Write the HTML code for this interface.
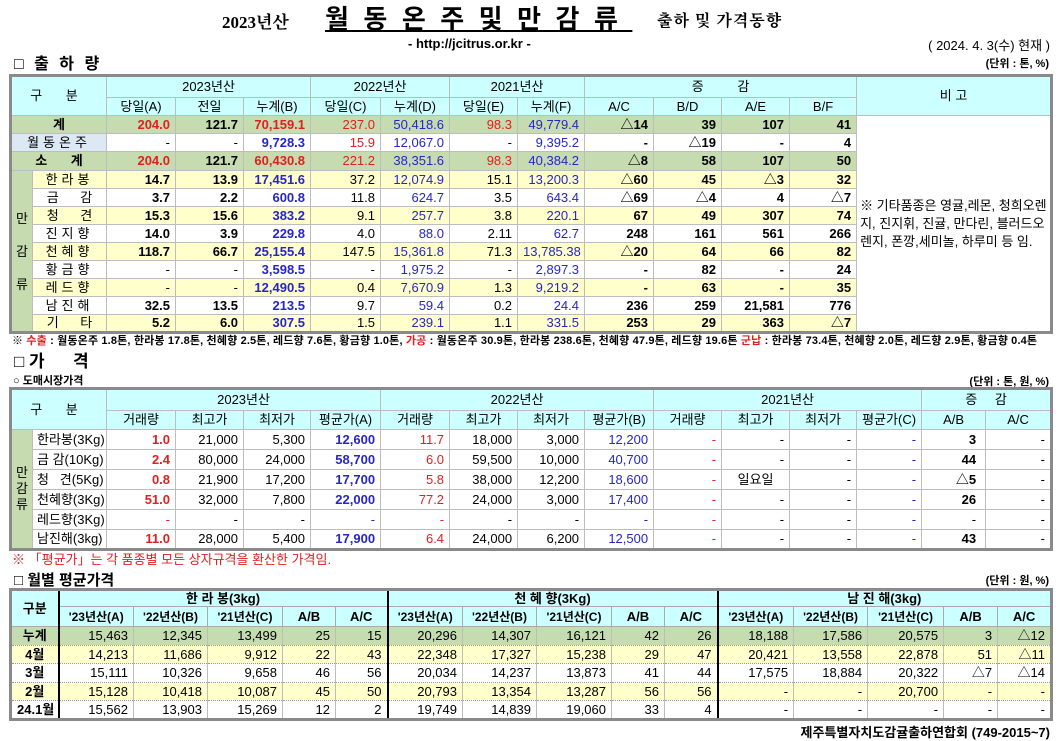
<!DOCTYPE html>
<html><head><meta charset="utf-8"><style>
*{margin:0;padding:0;box-sizing:border-box}
body{width:1062px;height:740px;background:#fff;position:relative;overflow:hidden;font-family:"Liberation Sans","Noto Sans CJK KR",sans-serif;color:#000}
.a{position:absolute;white-space:nowrap}
table{position:absolute;border-collapse:collapse;table-layout:fixed;border:3px solid #8a8a8a}
td{font-size:13px;padding:0 5px;text-align:right;border:1px solid #bdbdbd;white-space:nowrap;overflow:hidden;line-height:14px}
.h{background:#ccffff;text-align:center}
.g{background:#c6dbb0}
.y{background:#ffffcc}
.r{color:#e02020}.b{color:#2626c8}.B{font-weight:bold}
.c{text-align:center}.l{text-align:left}
.k{border-left:1px solid #000}
.t3 td{border-top:1px dotted #999;border-bottom:1px dotted #999;font-size:13px}
.t3 .h{font-weight:bold;border:1px solid #aaa}
</style></head><body>

<div class="a" style="left:222px;top:8px;font:bold 17px 'Liberation Serif','Noto Serif CJK SC',serif">2023년산</div>
<div class="a" style="left:325px;top:2px;font:bold 26px 'Noto Sans CJK KR',sans-serif;letter-spacing:14.5px;text-decoration:underline;line-height:32px">월동온주및만감류</div>
<div class="a" style="left:657px;top:8px;font:bold 16px 'Noto Serif CJK SC',serif;letter-spacing:1px">출하 및 가격동향</div>
<div class="a" style="left:408px;top:36px;font:bold 13px 'Liberation Sans',sans-serif">- http://jcitrus.or.kr -</div>
<div class="a" style="right:12px;top:35px;font-size:13px">( 2024.  4.  3(수) 현재 )</div>

<div class="a" style="left:14px;top:50px;font:bold 16px 'Liberation Sans','Noto Sans CJK KR',sans-serif;letter-spacing:3px">□ 출 하 량</div>
<div class="a" style="right:13px;top:55px;font:bold 11px 'Liberation Sans','Noto Sans CJK KR',sans-serif">(단위 : 톤, %)</div>

<table style="left:9px;top:74px;width:1044px">
<colgroup><col style="width:22px"><col style="width:74px"><col style="width:69px"><col style="width:68px"><col style="width:67px"><col style="width:70px"><col style="width:69px"><col style="width:68px"><col style="width:67px"><col style="width:69px"><col style="width:68px"><col style="width:68px"><col style="width:67px"><col></colgroup>
<tr style="height:22px"><td class="h" colspan="2" rowspan="2" style="letter-spacing:10px">구 분</td><td class="h" colspan="3">2023년산</td><td class="h" colspan="2">2022년산</td><td class="h" colspan="2">2021년산</td><td class="h" colspan="4" style="word-spacing:30px">증 감</td><td class="h" rowspan="2">비 고</td></tr>
<tr style="height:18px"><td class="h">당일(A)</td><td class="h">전일</td><td class="h">누계(B)</td><td class="h">당일(C)</td><td class="h">누계(D)</td><td class="h">당일(E)</td><td class="h">누계(F)</td><td class="h">A/C</td><td class="h">B/D</td><td class="h">A/E</td><td class="h">B/F</td></tr>
<tr class="g B" style="height:18px"><td colspan="2" class="c">계</td><td class="r">204.0</td><td>121.7</td><td class="r">70,159.1</td><td class="r" style="font-weight:normal">237.0</td><td class="b" style="font-weight:normal">50,418.6</td><td class="r" style="font-weight:normal">98.3</td><td class="b" style="font-weight:normal">49,779.4</td><td>△14</td><td>39</td><td>107</td><td>41</td>
<td rowspan="12" class="l" style="background:#fff;line-height:18px;padding:0 3px;font-weight:normal;vertical-align:middle;font-size:13px">※ 기타품종은 영귤,레몬, 청희오렌<br>지, 진지휘, 진귤, 만다린, 블러드오<br>렌지, 폰깡,세미놀, 하루미 등 임.</td></tr>
<tr style="height:18px"><td colspan="2" class="c" style="background:#dce8f4;letter-spacing:4px">월동온주</td><td>-</td><td>-</td><td class="b B">9,728.3</td><td class="r">15.9</td><td class="b">12,067.0</td><td>-</td><td class="b">9,395.2</td><td class="B">-</td><td class="B">△19</td><td class="B">-</td><td class="B">4</td></tr>
<tr class="g B" style="height:19px"><td colspan="2" class="c" style="word-spacing:20px">소 계</td><td class="r">204.0</td><td>121.7</td><td class="r">60,430.8</td><td class="r" style="font-weight:normal">221.2</td><td class="b" style="font-weight:normal">38,351.6</td><td class="r" style="font-weight:normal">98.3</td><td class="b" style="font-weight:normal">40,384.2</td><td>△8</td><td>58</td><td>107</td><td>50</td></tr>
<tr class="y" style="height:18px"><td rowspan="9" class="g c" style="padding:0;line-height:33px;white-space:normal">만<br>감<br>류</td><td class="c" style="letter-spacing:4px">한라봉</td><td class="B">14.7</td><td class="B">13.9</td><td class="b B">17,451.6</td><td>37.2</td><td class="b">12,074.9</td><td>15.1</td><td class="b">13,200.3</td><td class="B">△60</td><td class="B">45</td><td class="B">△3</td><td class="B">32</td></tr>
<tr style="height:18px"><td class="c" style="word-spacing:18px">금 감</td><td class="B">3.7</td><td class="B">2.2</td><td class="b B">600.8</td><td>11.8</td><td class="b">624.7</td><td>3.5</td><td class="b">643.4</td><td class="B">△69</td><td class="B">△4</td><td class="B">4</td><td class="B">△7</td></tr>
<tr class="y" style="height:18px"><td class="c" style="word-spacing:18px">청 견</td><td class="B">15.3</td><td class="B">15.6</td><td class="b B">383.2</td><td>9.1</td><td class="b">257.7</td><td>3.8</td><td class="b">220.1</td><td class="B">67</td><td class="B">49</td><td class="B">307</td><td class="B">74</td></tr>
<tr style="height:18px"><td class="c" style="letter-spacing:4px">진지향</td><td class="B">14.0</td><td class="B">3.9</td><td class="b B">229.8</td><td>4.0</td><td class="b">88.0</td><td>2.11</td><td class="b">62.7</td><td class="B">248</td><td class="B">161</td><td class="B">561</td><td class="B">266</td></tr>
<tr class="y" style="height:18px"><td class="c" style="letter-spacing:4px">천혜향</td><td class="B">118.7</td><td class="B">66.7</td><td class="b B">25,155.4</td><td>147.5</td><td class="b">15,361.8</td><td>71.3</td><td class="b">13,785.38</td><td class="B">△20</td><td class="B">64</td><td class="B">66</td><td class="B">82</td></tr>
<tr style="height:18px"><td class="c" style="letter-spacing:4px">황금향</td><td>-</td><td>-</td><td class="b B">3,598.5</td><td>-</td><td class="b">1,975.2</td><td>-</td><td class="b">2,897.3</td><td class="B">-</td><td class="B">82</td><td class="B">-</td><td class="B">24</td></tr>
<tr class="y" style="height:18px"><td class="c" style="letter-spacing:4px">레드향</td><td>-</td><td>-</td><td class="b B">12,490.5</td><td>0.4</td><td class="b">7,670.9</td><td>1.3</td><td class="b">9,219.2</td><td class="B">-</td><td class="B">63</td><td class="B">-</td><td class="B">35</td></tr>
<tr style="height:18px"><td class="c" style="letter-spacing:4px">남진해</td><td class="B">32.5</td><td class="B">13.5</td><td class="b B">213.5</td><td>9.7</td><td class="b">59.4</td><td>0.2</td><td class="b">24.4</td><td class="B">236</td><td class="B">259</td><td class="B">21,581</td><td class="B">776</td></tr>
<tr class="y" style="height:18px"><td class="c" style="word-spacing:18px">기 타</td><td class="B">5.2</td><td class="B">6.0</td><td class="b B">307.5</td><td>1.5</td><td class="b">239.1</td><td>1.1</td><td class="b">331.5</td><td class="B">253</td><td class="B">29</td><td class="B">363</td><td class="B">△7</td></tr>
</table>

<div class="a" style="left:12px;top:332px;font:bold 11px 'Liberation Sans','Noto Sans CJK KR',sans-serif;letter-spacing:0.15px">※ <span class="r">수출</span> : 월동온주 1.8톤, 한라봉 17.8톤, 천혜향 2.5톤, 레드향 7.6톤, 황금향 1.0톤, <span class="r">가공</span> : 월동온주 30.9톤, 한라봉 238.6톤, 천혜향 47.9톤, 레드향 19.6톤 <span class="r">군납</span> : 한라봉 73.4톤, 천혜향 2.0톤, 레드향 2.9톤, 황금향 0.4톤</div>

<div class="a" style="left:14px;top:347px;font:bold 17px 'Liberation Sans','Noto Sans CJK KR',sans-serif">□ 가&nbsp;&nbsp;&nbsp;&nbsp;&nbsp;&nbsp;격</div>
<div class="a" style="left:13px;top:372px;font:bold 11px 'Liberation Sans','Noto Sans CJK KR',sans-serif">○ 도매시장가격</div>
<div class="a" style="right:13px;top:373px;font:bold 11px 'Liberation Sans','Noto Sans CJK KR',sans-serif">(단위 : 톤, 원, %)</div>

<table style="left:9px;top:387px;width:1044px">
<colgroup><col style="width:22px"><col style="width:74px"><col style="width:69px"><col style="width:68px"><col style="width:67px"><col style="width:70px"><col style="width:69px"><col style="width:68px"><col style="width:67px"><col style="width:69px"><col style="width:68px"><col style="width:68px"><col style="width:67px"><col style="width:65px"><col style="width:64px"><col></colgroup>
<tr style="height:22px"><td class="h" colspan="2" rowspan="2" style="letter-spacing:10px">구 분</td><td class="h k" colspan="4">2023년산</td><td class="h k" colspan="4">2022년산</td><td class="h k" colspan="4">2021년산</td><td class="h k" colspan="2" style="word-spacing:14px">증 감</td></tr>
<tr style="height:19px"><td class="h k">거래량</td><td class="h">최고가</td><td class="h">최저가</td><td class="h">평균가(A)</td><td class="h k">거래량</td><td class="h">최고가</td><td class="h">최저가</td><td class="h">평균가(B)</td><td class="h k">거래량</td><td class="h">최고가</td><td class="h">최저가</td><td class="h">평균가(C)</td><td class="h k">A/B</td><td class="h" style="border-left:1px dotted #000">A/C</td></tr>
<tr style="height:20px"><td rowspan="6" class="g c" style="padding:0;line-height:16px;white-space:normal">만<br>감<br>류</td><td class="l" style="padding-left:4px">한라봉(3Kg)</td><td class="k r B">1.0</td><td>21,000</td><td>5,300</td><td class="b B">12,600</td><td class="k r">11.7</td><td>18,000</td><td>3,000</td><td class="b">12,200</td><td class="k r">-</td><td>-</td><td>-</td><td class="b">-</td><td class="k B" style="padding-right:9px">3</td><td style="border-left:1px dotted #000">-</td></tr>
<tr style="height:20px"><td class="l" style="padding-left:4px">금 감(10Kg)</td><td class="k r B">2.4</td><td>80,000</td><td>24,000</td><td class="b B">58,700</td><td class="k r">6.0</td><td>59,500</td><td>10,000</td><td class="b">40,700</td><td class="k r">-</td><td>-</td><td>-</td><td class="b">-</td><td class="k B" style="padding-right:9px">44</td><td style="border-left:1px dotted #000">-</td></tr>
<tr style="height:20px"><td class="l" style="padding-left:4px">청&nbsp;&nbsp; 견(5Kg)</td><td class="k r B">0.8</td><td>21,900</td><td>17,200</td><td class="b B">17,700</td><td class="k r">5.8</td><td>38,000</td><td>12,200</td><td class="b">18,600</td><td class="k r">-</td><td class="c">일요일</td><td>-</td><td class="b">-</td><td class="k B" style="padding-right:9px">△5</td><td style="border-left:1px dotted #000">-</td></tr>
<tr style="height:20px"><td class="l" style="padding-left:4px">천혜향(3Kg)</td><td class="k r B">51.0</td><td>32,000</td><td>7,800</td><td class="b B">22,000</td><td class="k r">77.2</td><td>24,000</td><td>3,000</td><td class="b">17,400</td><td class="k r">-</td><td>-</td><td>-</td><td class="b">-</td><td class="k B" style="padding-right:9px">26</td><td style="border-left:1px dotted #000">-</td></tr>
<tr style="height:20px"><td class="l" style="padding-left:4px">레드향(3Kg)</td><td class="k r">-</td><td>-</td><td>-</td><td class="b">-</td><td class="k r">-</td><td>-</td><td>-</td><td class="b">-</td><td class="k r">-</td><td>-</td><td>-</td><td class="b">-</td><td class="k" style="padding-right:9px">-</td><td style="border-left:1px dotted #000">-</td></tr>
<tr style="height:20px"><td class="l" style="padding-left:4px">남진해(3kg)</td><td class="k r B">11.0</td><td>28,000</td><td>5,400</td><td class="b B">17,900</td><td class="k r">6.4</td><td>24,000</td><td>6,200</td><td class="b">12,500</td><td class="k r">-</td><td>-</td><td>-</td><td class="b">-</td><td class="k B" style="padding-right:9px">43</td><td style="border-left:1px dotted #000">-</td></tr>
</table>

<div class="a r" style="left:12px;top:549px;font-size:13px">※ 「평균가」는 각 품종별 모든 상자규격을 환산한 가격임.</div>

<div class="a" style="left:14px;top:569px;font:bold 15px 'Liberation Sans','Noto Sans CJK KR',sans-serif">□ 월별 평균가격</div>
<div class="a" style="right:13px;top:572px;font:bold 11px 'Liberation Sans','Noto Sans CJK KR',sans-serif">(단위 : 원, %)</div>

<table class="t3" style="left:9px;top:588px;width:1044px">
<colgroup><col style="width:48px"><col style="width:75px"><col style="width:74px"><col style="width:75px"><col style="width:53px"><col style="width:52px"><col style="width:75px"><col style="width:74px"><col style="width:75px"><col style="width:53px"><col style="width:53px"><col style="width:76px"><col style="width:74px"><col style="width:76px"><col style="width:54px"><col></colgroup>
<tr style="height:17px"><td class="h" rowspan="2" style="border-right:2px solid #000">구분</td><td class="h" colspan="5">한 라 봉(3kg)</td><td class="h" colspan="5" style="border-left:2px solid #000">천 혜 향(3Kg)</td><td class="h" colspan="5" style="border-left:2px solid #000">남 진 해(3kg)</td></tr>
<tr style="height:20px"><td class="h" style="font-size:12px">'23년산(A)</td><td class="h" style="font-size:12px">'22년산(B)</td><td class="h" style="font-size:12px">'21년산(C)</td><td class="h">A/B</td><td class="h">A/C</td><td class="h" style="border-left:2px solid #000;font-size:12px">'23년산(A)</td><td class="h" style="font-size:12px">'22년산(B)</td><td class="h" style="font-size:12px">'21년산(C)</td><td class="h">A/B</td><td class="h">A/C</td><td class="h" style="border-left:2px solid #000;font-size:12px">'23년산(A)</td><td class="h" style="font-size:12px">'22년산(B)</td><td class="h" style="font-size:12px">'21년산(C)</td><td class="h">A/B</td><td class="h">A/C</td></tr>
<tr class="g" style="height:19px"><td class="c B" style="border-right:2px solid #000">누계</td><td>15,463</td><td>12,345</td><td>13,499</td><td>25</td><td>15</td><td style="border-left:2px solid #000">20,296</td><td>14,307</td><td>16,121</td><td>42</td><td>26</td><td style="border-left:2px solid #000">18,188</td><td>17,586</td><td>20,575</td><td>3</td><td>△12</td></tr>
<tr class="y" style="height:18px"><td class="c B" style="border-right:2px solid #000">4월</td><td>14,213</td><td>11,686</td><td>9,912</td><td>22</td><td>43</td><td style="border-left:2px solid #000">22,348</td><td>17,327</td><td>15,238</td><td>29</td><td>47</td><td style="border-left:2px solid #000">20,421</td><td>13,558</td><td>22,878</td><td>51</td><td>△11</td></tr>
<tr style="height:19px"><td class="c B" style="border-right:2px solid #000">3월</td><td>15,111</td><td>10,326</td><td>9,658</td><td>46</td><td>56</td><td style="border-left:2px solid #000">20,034</td><td>14,237</td><td>13,873</td><td>41</td><td>44</td><td style="border-left:2px solid #000">17,575</td><td>18,884</td><td>20,322</td><td>△7</td><td>△14</td></tr>
<tr class="y" style="height:18px"><td class="c B" style="border-right:2px solid #000">2월</td><td>15,128</td><td>10,418</td><td>10,087</td><td>45</td><td>50</td><td style="border-left:2px solid #000">20,793</td><td>13,354</td><td>13,287</td><td>56</td><td>56</td><td style="border-left:2px solid #000">-</td><td>-</td><td>20,700</td><td>-</td><td>-</td></tr>
<tr style="height:19px"><td class="c B" style="border-right:2px solid #000">24.1월</td><td>15,562</td><td>13,903</td><td>15,269</td><td>12</td><td>2</td><td style="border-left:2px solid #000">19,749</td><td>14,839</td><td>19,060</td><td>33</td><td>4</td><td style="border-left:2px solid #000">-</td><td>-</td><td>-</td><td>-</td><td>-</td></tr>
</table>

<div class="a" style="right:12px;top:722px;font:bold 13px 'Liberation Sans','Noto Sans CJK KR',sans-serif">제주특별자치도감귤출하연합회 (749-2015~7)</div>
</body></html>
